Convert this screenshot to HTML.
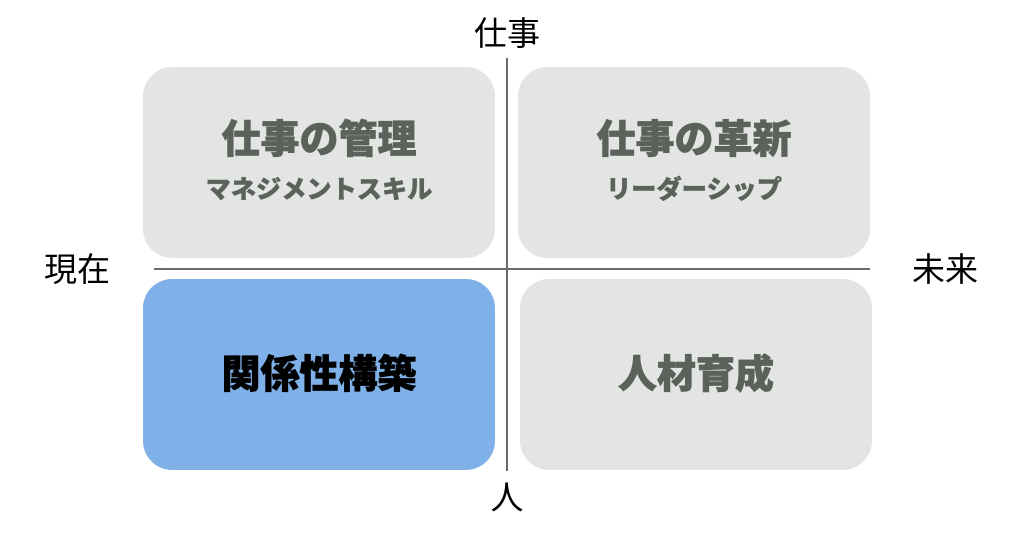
<!DOCTYPE html>
<html lang="ja">
<head>
<meta charset="utf-8">
<style>
html,body{margin:0;padding:0;background:#fff;}
#c{position:relative;width:1023px;height:535px;overflow:hidden;background:#fff;font-family:"Liberation Sans","Noto Sans CJK JP",sans-serif;}
.b{position:absolute;border-radius:29px;background:#e3e5e3;}
.t{position:absolute;white-space:nowrap;text-align:center;line-height:1;}
.h{font-size:39px;font-weight:900;color:#5c615c;-webkit-text-stroke:0.7px currentColor;}
.s{font-size:25.2px;font-weight:900;color:#5c615c;-webkit-text-stroke:0.4px currentColor;}
.l{font-size:33px;font-weight:400;color:#000;}
.ln{position:absolute;background:#666b67;}
</style>
</head>
<body>
<div id="c">
<div class="b" style="left:143px;top:67px;width:352px;height:191px;"></div>
<div class="b" style="left:518px;top:67px;width:352px;height:191px;"></div>
<div class="b" style="left:143px;top:279px;width:352px;height:191px;background:#7fb0e8;"></div>
<div class="b" style="left:520px;top:279px;width:352px;height:191px;"></div>
<div class="ln" style="left:506px;top:58px;width:2px;height:413px;"></div>
<div class="ln" style="left:154px;top:268px;width:716px;height:2px;"></div>
<div class="t h" style="left:143px;width:352px;top:121px;">仕事の管理</div>
<div class="t s" style="left:143px;width:352px;top:178px;">マネジメントスキル</div>
<div class="t h" style="left:518px;width:352px;top:121px;">仕事の革新</div>
<div class="t s" style="left:518px;width:352px;top:178px;">リーダーシップ</div>
<div class="t h" style="left:143px;width:352px;top:356px;color:#000;">関係性構築</div>
<div class="t h" style="left:520px;width:352px;top:356px;">人材育成</div>
<div class="t l" style="left:457px;width:100px;top:17px;">仕事</div>
<div class="t l" style="left:457px;width:100px;top:481px;">人</div>
<div class="t l" style="left:27px;width:100px;top:253px;">現在</div>
<div class="t l" style="left:895px;width:100px;top:253px;">未来</div>
</div>
</body>
</html>
